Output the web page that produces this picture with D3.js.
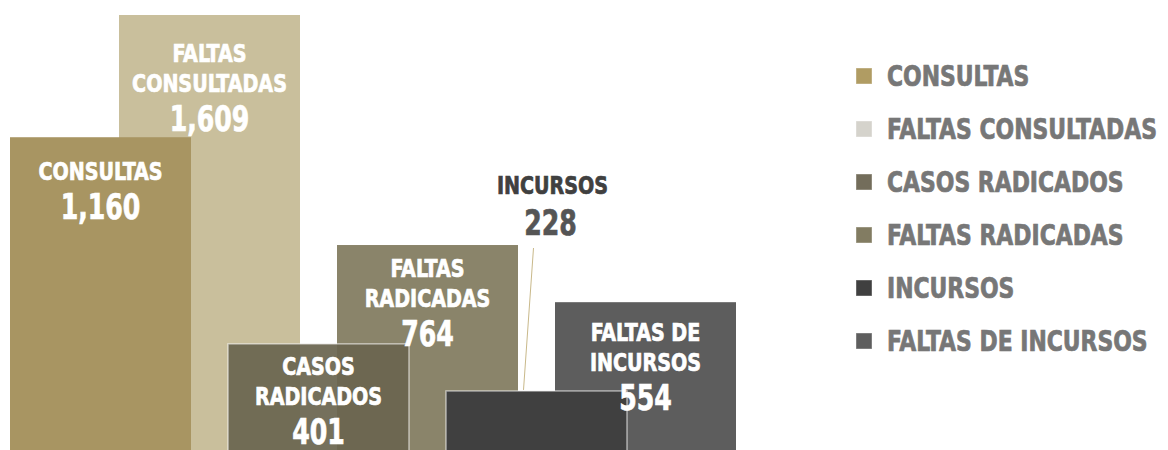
<!DOCTYPE html>
<html>
<head>
<meta charset="utf-8">
<script src="https://cdn.jsdelivr.net/npm/d3@7"></script>
<style>
	body { margin: 0; background: #fff; }
	svg { display: block; }
	text { font-family: "Liberation Sans Narrow", "DejaVu Sans Condensed", sans-serif; font-weight: bold; }
</style>
</head>
<body>
<div id="chart"></div>
<script>
var WIDTH = 1168;
var HEIGHT = 450;

// data, in left-to-right order
var categories = ["CONSULTAS", "FALTAS CONSULTADAS", "CASOS RADICADOS", "FALTAS RADICADAS", "INCURSOS", "FALTAS DE INCURSOS"];
var values = [1160, 1609, 401, 764, 228, 554];
var labelLines = [["CONSULTAS"], ["FALTAS", "CONSULTADAS"], ["CASOS", "RADICADOS"], ["FALTAS", "RADICADAS"], ["INCURSOS"], ["FALTAS DE", "INCURSOS"]];

var colours = ["#a89562", "#c9bf9c", "#6b6550", "#8a846a", "#404040", "#5d5d5d"];
var legendColours = ["#b09c63", "#d5d3cc", "#736d5b", "#827c62", "#404040", "#5e5e5e"];
// draw order: the "faltas" bars sit behind their partner bar
var drawOrder = [1, 0, 3, 2, 5, 4];
// first label line offset from bar top
var labelOffset = [43, 47, 31, 32, 0, 39];

var svg = d3.select('#chart').append('svg')
	.attr('width', WIDTH).attr('height', HEIGHT);

// condensed heavy text: the narrow face isn't installed, so squeeze horizontally
// and thicken with a thin stroke of the same colour
function addText(parent, x, y, str, size, fill, anchor, squeeze) {
	return parent.append('text')
		.attr('transform', 'translate(' + x + ',' + y + ') scale(' + squeeze + ',1)')
		.attr('text-anchor', anchor)
		.attr('fill', fill)
		.attr('stroke', fill).attr('stroke-width', 0.7)
		.attr('font-size', size)
		.text(str);
}

var baseline = 453;
var barWidth = 181;
var x = d3.scaleLinear().domain([0, categories.length - 1]).range([10, 555]);
var y = d3.scaleLinear().domain([0, 1609]).range([baseline, 15]);
var fmt = d3.format(",");

var bars = svg.append('g');
var labels = svg.append('g');
drawOrder.forEach(function(i) {
	let overlay = (i == 2 || i == 4);
	bars.append('rect')
		.attr('x', x(i)).attr('y', y(values[i]))
		.attr('width', barWidth).attr('height', baseline - y(values[i]))
		.attr('fill', colours[i])
		.attr('fill-opacity', i == 2 ? 0.93 : 1)
		.attr('stroke', overlay ? 'rgba(255,255,255,0.55)' : 'none')
		.attr('stroke-width', overlay ? 1.5 : 0);

	if(i == 4) return; // incursos label sits outside
	let cx = x(i) + barWidth / 2;
	let top = y(values[i]) + labelOffset[i];
	let lines = labelLines[i];
	lines.forEach(function(l, k) {
		addText(labels, cx, top + k * 30, l, 25, '#fff', 'middle', 0.85);
	});
	addText(labels, cx, top + (lines.length - 1) * 30 + 39, fmt(values[i]), 35, '#fff', 'middle', 0.8);
});

// INCURSOS callout
var ix = x(4) + barWidth / 2;
svg.append('line')
	.attr('x1', ix - 3).attr('y1', 248)
	.attr('x2', ix - 13).attr('y2', y(values[4]) - 1)
	.attr('stroke', '#c9b98a').attr('stroke-width', 1);
addText(svg, ix + 16, 194, categories[4], 25, '#404040', 'middle', 0.85);
addText(svg, ix + 14, 235, fmt(values[4]), 35, '#555', 'middle', 0.8);

// legend
var legend = svg.append('g').attr('transform', 'translate(856,0)');
categories.forEach(function(c, i) {
	let cy = 76 + i * 53;
	legend.append('rect')
		.attr('x', 0).attr('y', cy - 8)
		.attr('width', 16).attr('height', 16)
		.attr('fill', legendColours[i])
		.attr('stroke', 'rgba(255,255,255,0.4)');
	addText(legend, 31, cy + 10, c, 28, '#777', 'start', 0.87);
});
</script>
</body>
</html>
